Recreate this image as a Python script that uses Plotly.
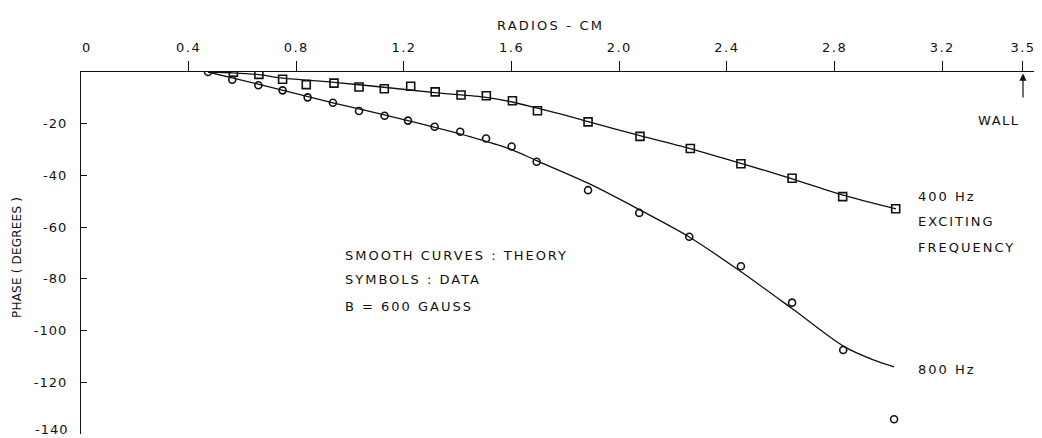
import plotly.graph_objects as go

# ---- data ----
r_400_data = [0.566, 0.661, 0.749, 0.837, 0.940, 1.033, 1.127, 1.225, 1.316, 1.412,
              1.506, 1.603, 1.696, 1.884, 2.077, 2.264, 2.452, 2.642, 2.830, 3.027]
phase_400_data = [-0.1, -0.9, -2.8, -4.9, -4.3, -5.8, -6.5, -5.5, -7.7, -8.9,
                  -9.2, -11.1, -15.0, -19.3, -24.9, -29.6, -35.5, -41.1, -48.2, -52.9]

r_800_data = [0.472, 0.562, 0.659, 0.749, 0.842, 0.936, 1.033, 1.128, 1.215, 1.314, 1.409,
              1.505, 1.600, 1.693, 1.884, 2.074, 2.260, 2.452, 2.642, 2.832, 3.021]
phase_800_data = [0, -3.0, -5.1, -7.1, -9.8, -11.9, -15.1, -16.9, -18.8, -21.2, -23.1,
                  -25.7, -28.8, -34.7, -45.7, -54.5, -63.7, -75.1, -89.2, -107.5, -134.3]

r_400_theory = [0.472, 0.565, 0.661, 0.751, 0.940, 1.126, 1.315, 1.505, 1.602, 1.696,
                1.791, 1.884, 2.077, 2.263, 2.452, 2.642, 2.831, 3.028]
phase_400_theory = [0, -0.3, -1.0, -2.4, -4.0, -5.9, -8.0, -9.8, -11.6, -14.0,
                    -16.5, -19.2, -24.6, -29.6, -35.3, -41.3, -47.6, -52.9]

r_800_theory = [0.472, 0.658, 0.936, 1.215, 1.445, 1.600, 1.693, 1.884, 2.074, 2.260,
                2.442, 2.642, 2.832, 2.944, 3.021]
phase_800_theory = [0, -4.7, -11.9, -18.8, -25.0, -30.0, -34.3, -43.0, -53.2, -63.8,
                    -76.5, -91.5, -106.0, -111.3, -114.0]

x_ticks = [0.4, 0.8, 1.2, 1.6, 2.0, 2.4, 2.8, 3.2, 3.5]
x_tick_text = ["0.4", "0.8", "1.2", "1.6", "2.0", "2.4", "2.8", "3.2", "3.5"]
y_ticks = [-20, -40, -60, -80, -100, -120, -140]

FONT = "DejaVu Sans"
INK = "#111111"


def spaced(txt, px):
    return f'<span style="letter-spacing:{px}px">{txt}</span>'


fig = go.Figure()

fig.add_trace(go.Scatter(x=r_400_theory, y=phase_400_theory, mode="lines",
                         line=dict(color=INK, width=1.3, shape="spline", smoothing=0.8),
                         hoverinfo="skip"))
fig.add_trace(go.Scatter(x=r_800_theory, y=phase_800_theory, mode="lines",
                         line=dict(color=INK, width=1.3, shape="spline", smoothing=0.8),
                         hoverinfo="skip"))
fig.add_trace(go.Scatter(x=r_400_data, y=phase_400_data, mode="markers",
                         marker=dict(symbol="square-open", size=8, color=INK,
                                     line=dict(width=1.6, color=INK))))
fig.add_trace(go.Scatter(x=r_800_data, y=phase_800_data, mode="markers",
                         marker=dict(symbol="circle-open", size=7, color=INK,
                                     line=dict(width=1.6, color=INK))))

# the page body adds an 8 px offset, so the figure is 8 px smaller on each axis
FIG_W, FIG_H = 1034, 430
L, T, B = 73, 64, 4
plot_w = FIG_W - L
plot_h = FIG_H - T - B
x_px = 269.14  # px per cm
x_max = plot_w / x_px

# the lowest label is drawn separately (nudged up so it is not cut by the page edge)
y_tick_text = [spaced(f"-{abs(v)}", 1) if v != y_ticks[-1] else "" for v in y_ticks]

fig.update_layout(
    width=FIG_W, height=FIG_H,
    margin=dict(l=L, r=0, t=T, b=B, autoexpand=False),
    paper_bgcolor="white", plot_bgcolor="white",
    showlegend=False,
    font=dict(family=FONT, color=INK, size=12),
    xaxis=dict(range=[0, x_max], side="top", showgrid=False, zeroline=False,
               automargin=False,
               showline=True, linecolor=INK, linewidth=1.2,
               ticks="outside", ticklen=10, tickwidth=1.2, tickcolor=INK,
               tickvals=x_ticks, ticktext=[spaced(t, 1.5) for t in x_tick_text],
               tickfont=dict(family=FONT, size=13, color=INK),
               ticklabelstandoff=4, ticklabeloverflow="allow"),
    yaxis=dict(range=[-140, 0], showgrid=False, zeroline=False,
               automargin=False,
               showline=True, linecolor=INK, linewidth=1.2,
               ticks="inside", ticklen=6, tickwidth=1.2, tickcolor=INK,
               tickvals=y_ticks, ticktext=y_tick_text,
               tickfont=dict(family=FONT, size=13, color=INK),
               ticklabelstandoff=10, ticklabeloverflow="allow"),
)


# helpers converting page pixels (reference coordinates) into paper coords
def px_x(px):
    return (px - 8 - L) / plot_w


def px_y(py):
    return (T + plot_h - (py - 8)) / plot_h


ann = []
ann.append(dict(x=0, y=0, xref="x", yref="y", text=spaced("0", 1.5), showarrow=False,
                font=dict(family=FONT, size=13, color=INK), xshift=6, yshift=25))
ann.append(dict(x=0, y=y_ticks[-1], xref="paper", yref="y", xanchor="right",
                yanchor="middle", xshift=-10, yshift=5,
                text=spaced(f"-{abs(y_ticks[-1])}", 1), showarrow=False,
                font=dict(family=FONT, size=13, color=INK)))
ann.append(dict(x=px_x(550), y=px_y(16), xref="paper", yref="paper",
                text=spaced("RADIOS - CM", 2.2), showarrow=False,
                font=dict(family=FONT, size=13, color=INK)))
ann.append(dict(x=px_x(17), y=px_y(258), xref="paper", yref="paper",
                xanchor="center", yanchor="middle",
                text=spaced("PHASE ( DEGREES )", 0.2), textangle=-90, showarrow=False,
                font=dict(family=FONT, size=12, color=INK)))
# wall arrow
ann.append(dict(x=3.5, y=-0.6, ax=3.5, ay=-10.4, xref="x", yref="y", axref="x", ayref="y",
                text="", showarrow=True, arrowhead=2, arrowsize=1.2, arrowwidth=1.2,
                arrowcolor=INK))
ann.append(dict(x=3.497, y=-18.6, xref="x", yref="y", text=spaced("WALL", 1.5),
                xanchor="right", showarrow=False, font=dict(family=FONT, size=13, color=INK)))
for txt, yv in [("400 Hz", -48.2), ("EXCITING", -57.9), ("FREQUENCY", -67.8), ("800 Hz", -115.0)]:
    ann.append(dict(x=3.102, y=yv, xref="x", yref="y", text=spaced(txt, 2), xanchor="left",
                    showarrow=False, font=dict(family=FONT, size=13, color=INK)))
for txt, yv in [("SMOOTH CURVES : THEORY", -70.8), ("SYMBOLS : DATA", -80.4),
                ("B = 600 GAUSS", -90.5)]:
    ann.append(dict(x=0.974, y=yv, xref="x", yref="y", text=spaced(txt, 2), xanchor="left",
                    showarrow=False, font=dict(family=FONT, size=13, color=INK)))
fig.update_layout(annotations=ann)

fig.write_html("out.html")
